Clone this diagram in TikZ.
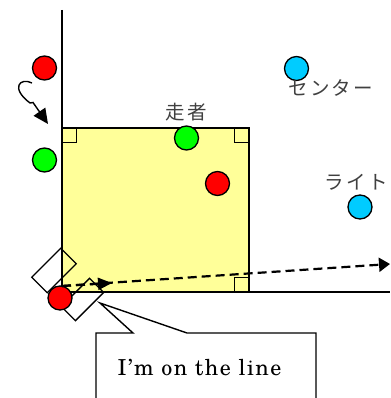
\documentclass[tikz,border=0pt]{standalone}
\usepackage{fontspec}
\newfontfamily\jp[LetterSpace=12]{Noto Sans CJK JP}
\newfontfamily\msgfont[Extension=.otf, LetterSpace=7]{texgyreschola-regular}
\usetikzlibrary{arrows.meta}
\definecolor{ballred}{HTML}{FF0000}
\definecolor{ballgreen}{HTML}{00FF00}
\definecolor{ballblue}{HTML}{00CCFF}
\definecolor{fieldyellow}{HTML}{FFFF99}
\tikzset{
  ball/.style={circle, draw=black, line width=1.3pt, minimum size=24pt, inner sep=0pt},
  basebox/.style={draw=black, line width=1.3pt, minimum width=41pt, minimum height=22pt, rotate=45, inner sep=0pt},
  cornerbox/.style={draw=black, line width=1.3pt},
  edge/.style={line width=1.5pt},
  dashedarrow/.style={line width=2.2pt, dash pattern=on 9pt off 5pt, -{Triangle[length=11pt,width=14pt]}},
  jptext/.style={font=\jp\fontsize{19.5}{22}\selectfont, text=black!75, inner sep=0pt},
}
\begin{document}
\begin{tikzpicture}[x=1pt, y=-1pt]
\useasboundingbox (0,0) rectangle (390,398);
% field
\node[fill=fieldyellow, draw=black, line width=1.5pt, minimum width=187pt, minimum height=164pt, inner sep=0pt] (field) at (155.5,210) {};
% lines
\coordinate (ltop) at (62,10);
\coordinate (lbot) at (62,292);
\coordinate (rend) at (390,292);
\draw[edge] (ltop) -- (lbot);
\draw[edge] (lbot) -- (rend);
% corner marks
\draw[cornerbox] (field.north west) rectangle ++(15,15);
\draw[cornerbox] (field.north east) rectangle ++(-15,15);
\draw[cornerbox] (field.south east) rectangle ++(-15,-15);
% bases
\node[basebox] (base1) at (54,270.5) {};
\node[basebox, minimum width=40pt, minimum height=20pt] (base2) at (82.5,299.5) {};
% balls
\node[ball, fill=ballred] (r1) at (44.5,68) {};
\node[ball, fill=ballgreen] (g1) at (44.5,160) {};
\node[ball, fill=ballgreen] (g2) at (186.5,138) {};
\node[ball, fill=ballred] (r2) at (217.5,183.5) {};
\node[ball, fill=ballblue] (b1) at (296.5,68.5) {};
\node[ball, fill=ballblue] (b2) at (360,207) {};
\node[ball, fill=ballred] (r3) at (60,298) {};
% labels
\node[jptext] (runner) at (186,112) {走者};
\node[jptext, anchor=west] (center) at (288,88) {センター};
\node[jptext] (right) at (356,182) {ライト};
% squiggle arrow
\coordinate (s0) at (32,83);
\coordinate (s1) at (30,103);
\coordinate (s2) at (33,102.5);
\coordinate (s3) at (48,124);
\draw[line width=1.4pt, -{Triangle[length=15pt,width=14pt]}] (s0) .. controls (20,77) and (10,88) .. (s1) -- (s2) -- (s3);
% dashed arrows
\coordinate (d0) at (62,286);
\coordinate (d1) at (112,283);
\coordinate (d2) at (390,264);
\draw[dashedarrow] (d0) -- (d2);
\draw[line width=2.2pt, dash pattern=on 9pt off 5pt, -{Triangle[length=14pt,width=12pt]}] (d0) -- (d1);
% callout
\coordinate (c1) at (96,405);
\coordinate (c2) at (96,333);
\coordinate (c3) at (133,333);
\coordinate (ctip) at (100,303);
\coordinate (c4) at (187,333);
\coordinate (c5) at (316,333);
\coordinate (c6) at (316,405);
\draw[fill=white, line width=1.4pt] (c1) -- (c2) -- (c3) -- (ctip) -- (c4) -- (c5) -- (c6);
\node[anchor=base, inner sep=0pt, font=\msgfont\fontsize{22}{26}\selectfont] (msg) at (199.5,375) {I’m on the line};
\end{tikzpicture}
\end{document}
